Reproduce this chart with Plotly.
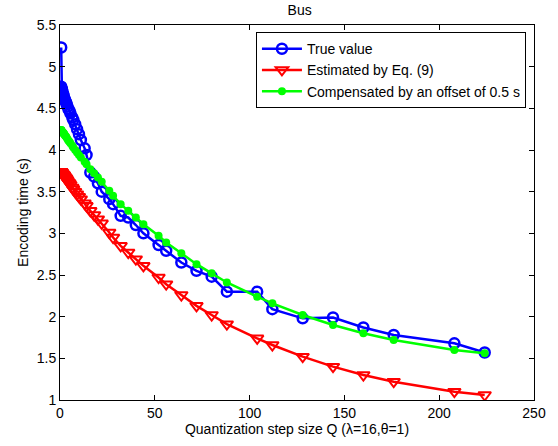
import plotly.graph_objects as go

# Quantization step sizes (H.264 Qstep for QP 0..51)
q_step = [0.625, 0.6875, 0.8125, 0.875, 1, 1.125, 1.25, 1.375, 1.625, 1.75,
          2, 2.25, 2.5, 2.75, 3.25, 3.5, 4, 4.5, 5, 5.5,
          6.5, 7, 8, 9, 10, 11, 13, 14, 16, 18,
          20, 22, 26, 28, 32, 36, 40, 44, 52, 56,
          64, 72, 80, 88, 104, 112, 128, 144, 160, 176,
          208, 224]

# Measured encoding time (s)
true_time = [5.23, 4.76, 4.74, 4.73, 4.72, 4.71, 4.70, 4.68, 4.67, 4.66,
             4.64, 4.62, 4.61, 4.59, 4.57, 4.55, 4.52, 4.49, 4.47, 4.44,
             4.39, 4.36, 4.31, 4.25, 4.19, 4.12, 4.02, 3.94, 3.73, 3.68,
             3.60, 3.50, 3.41, 3.35, 3.21, 3.19, 3.10, 3.00, 2.86, 2.79,
             2.65, 2.55, 2.48, 2.30, 2.30, 2.09, 1.98, 1.99, 1.87, 1.78,
             1.68, 1.57]

# Model estimate from Eq. (9)
est_time = [3.74, 3.74, 3.73, 3.73, 3.72, 3.72, 3.71, 3.71, 3.71, 3.70,
            3.70, 3.69, 3.68, 3.67, 3.66, 3.65, 3.63, 3.61, 3.60, 3.58,
            3.55, 3.53, 3.50, 3.47, 3.44, 3.41, 3.36, 3.33, 3.27, 3.22,
            3.17, 3.12, 3.01, 2.95, 2.85, 2.77, 2.69, 2.61, 2.47, 2.39,
            2.26, 2.13, 2.02, 1.91, 1.74, 1.66, 1.52, 1.40, 1.30, 1.22,
            1.10, 1.06]

# Estimate shifted by the 0.5 s offset
comp_time = [4.24, 4.24, 4.23, 4.23, 4.22, 4.22, 4.21, 4.21, 4.21, 4.20,
             4.20, 4.19, 4.18, 4.17, 4.16, 4.15, 4.13, 4.11, 4.10, 4.08,
             4.05, 4.03, 4.00, 3.97, 3.94, 3.91, 3.86, 3.83, 3.77, 3.72,
             3.67, 3.62, 3.51, 3.45, 3.35, 3.27, 3.19, 3.11, 2.97, 2.89,
             2.76, 2.63, 2.52, 2.41, 2.24, 2.16, 2.02, 1.90, 1.80, 1.72,
             1.60, 1.56]

x_ticks = [0, 50, 100, 150, 200, 250]
y_ticks = [1, 1.5, 2, 2.5, 3, 3.5, 4, 4.5, 5, 5.5]

fig = go.Figure()
fig.add_trace(go.Scatter(
    x=q_step, y=true_time, mode="lines+markers", name="True value",
    line=dict(color="#0000FF", width=2.5),
    marker=dict(symbol="circle-open", size=10, color="#0000FF",
                line=dict(width=2.5, color="#0000FF"))))
fig.add_trace(go.Scatter(
    x=q_step, y=est_time, mode="lines+markers", name="Estimated by Eq. (9)",
    line=dict(color="#FF0000", width=2.5),
    marker=dict(symbol="triangle-down-open", size=11, color="#FF0000",
                line=dict(width=2, color="#FF0000"))))
fig.add_trace(go.Scatter(
    x=q_step, y=comp_time, mode="lines+markers",
    name="Compensated by an offset of 0.5 s",
    line=dict(color="#00FF00", width=2.5),
    marker=dict(symbol="circle", size=8, color="#00FF00")))

axis_common = dict(
    showline=True, linecolor="black", linewidth=1, mirror="ticks",
    ticks="inside", ticklen=5, tickcolor="black", showgrid=False,
    zeroline=False, tickfont=dict(size=14, color="black"),
)

fig.update_layout(
    width=558, height=446,
    margin=dict(l=60, r=19, t=25, b=46),
    paper_bgcolor="white", plot_bgcolor="white",
    font=dict(family="Liberation Sans, Arial, sans-serif", size=14, color="black"),
    title=dict(text="Bus", x=0.537, xanchor="center", y=0.978, yanchor="middle",
               font=dict(size=14)),
    xaxis=dict(range=[0, 250], tickvals=x_ticks,
               title=dict(text="Quantization step size Q (λ=16,θ=1)",
                          standoff=2, font=dict(size=14)),
               **axis_common),
    yaxis=dict(range=[1, 5.5], tickvals=y_ticks,
               title=dict(text="Encoding time (s)", standoff=4, font=dict(size=14)),
               **axis_common),
    legend=dict(x=0.983, xanchor="right", y=0.981, yanchor="top",
                bordercolor="black", borderwidth=1, bgcolor="white",
                font=dict(size=14), tracegroupgap=0, itemwidth=40),
    showlegend=True,
)

fig.write_html("out.html")
